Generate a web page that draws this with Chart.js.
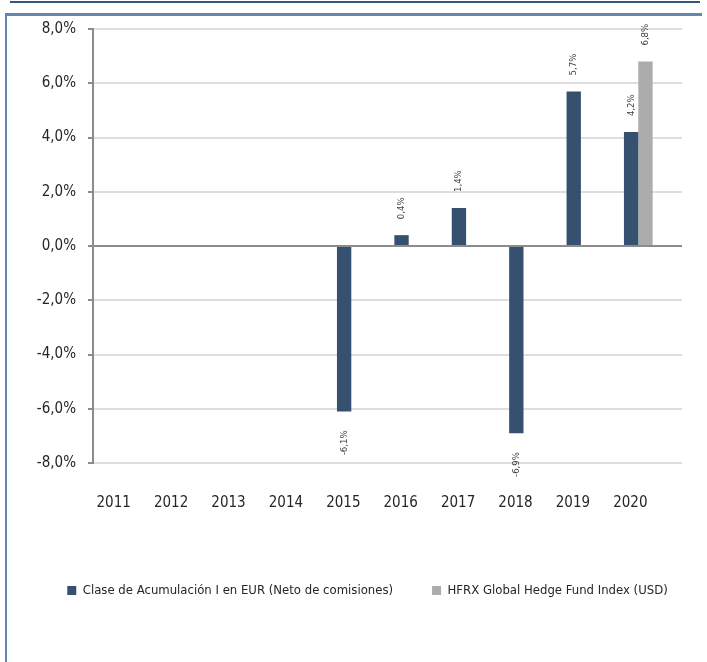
<!DOCTYPE html>
<html>
<head>
<meta charset="utf-8">
<script src="https://cdn.jsdelivr.net/npm/chart.js@4.4.1/dist/chart.umd.min.js"></script>
<style>
  html, body { margin: 0; padding: 0; background: #fff; }
  body { width: 707px; height: 662px; position: relative; overflow: hidden; }
  .topline { position: absolute; left: 10px; top: 1px; width: 690px; height: 2px; background: #34557d; }
  .frame { position: absolute; left: 5px; top: 13px; width: 695px; height: 660px; border-top: 3px solid #6586ad; border-left: 2px solid #6586ad; }
  #wrap { position: absolute; left: 8px; top: 8px; width: 699px; height: 654px; }
</style>
</head>
<body>
<div class="topline"></div>
<div class="frame"></div>
<div id="wrap"><canvas id="perfChart"></canvas></div>
<script>
// ── Rentabilidad anual ──
const years = ['2011','2012','2013','2014','2015','2016','2017','2018','2019','2020'];
const claseI = [null, null, null, null, -6.1, 0.4, 1.4, -6.9, 5.7, 4.2];
const hfrx = [null, null, null, null, null, null, null, null, null, 6.8];
const yTicks = [-8, -6, -4, -2, 0, 2, 4, 6, 8];

const FONT = "'DejaVu Sans Condensed', 'DejaVu Sans', sans-serif";
const fmt = v => v.toFixed(1).replace('.', ',') + '%';

// rotated value labels above / below each bar
const barLabels = {
  id: 'barLabels',
  afterDatasetsDraw(chart) {
    const ctx = chart.ctx;
    ctx.save();
    ctx.font = '9.5px ' + FONT;
    ctx.fillStyle = '#404040';
    ctx.textBaseline = 'middle';
    chart.data.datasets.forEach((ds, i) => {
      chart.getDatasetMeta(i).data.forEach((bar, j) => {
        const v = ds.data[j];
        if (v == null) return;
        ctx.save();
        if (v >= 0) { ctx.translate(bar.x, bar.y - 16); ctx.textAlign = 'left'; }
        else { ctx.translate(bar.x, bar.y + 19); ctx.textAlign = 'right'; }
        ctx.rotate(-Math.PI / 2);
        ctx.fillText(fmt(v), 0, 0);
        ctx.restore();
      });
    });
    ctx.restore();
  }
};

// right margin of the plot, and categories stop a bit short of where the gridlines end
const plotRight = {
  id: 'plotRight',
  afterLayout(chart) {
    const area = chart.chartArea;
    area.right = chart.width - 25;
    area.width = area.right - area.left;
    const x = chart.scales.x;
    x.right = chart.width - 40;
    x.width = x.right - x.left;
    x.configure();
  }
};

new Chart(document.getElementById('perfChart').getContext('2d'), {
  type: 'bar',
  data: {
    labels: years,
    datasets: [
      { label: 'Clase de Acumulación I en EUR (Neto de comisiones)', data: claseI, backgroundColor: '#36506f' },
      { label: 'HFRX Global Hedge Fund Index (USD)', data: hfrx, backgroundColor: '#acacac' }
    ]
  },
  options: {
    responsive: true,
    maintainAspectRatio: false,
    animation: false,
    categoryPercentage: 0.5,
    barPercentage: 1,
    layout: { padding: { top: 3, right: 0, bottom: 55, left: 20 } },
    plugins: {
      tooltip: { enabled: false },
      legend: {
        position: 'bottom',
        labels: { boxWidth: 9, boxHeight: 9, padding: 39, color: '#262626', font: { family: FONT, size: 13 } }
      }
    },
    scales: {
      x: {
        grid: { display: false },
        border: { display: false },
        ticks: { color: '#262626', padding: 23, labelOffset: -8, maxRotation: 0, font: { family: FONT, size: 15 } },
        afterFit(s) { s.height = 82; }
      },
      y: {
        min: -8, max: 8,
        afterBuildTicks(s) { s.ticks = yTicks.map(v => ({ value: v })); },
        grid: {
          lineWidth: 2,
          tickLength: 5,
          tickColor: '#8c8c8c',
          color: c => (c.tick && c.tick.value === 0) ? '#8c8c8c' : '#dedede'
        },
        border: { color: '#8c8c8c', width: 2 },
        ticks: { color: '#262626', padding: 12, callback: v => fmt(v), font: { family: FONT, size: 15 } },
        afterFit(s) { s.width = 65; }
      }
    }
  },
  plugins: [barLabels, plotRight]
});
</script>
</body>
</html>
